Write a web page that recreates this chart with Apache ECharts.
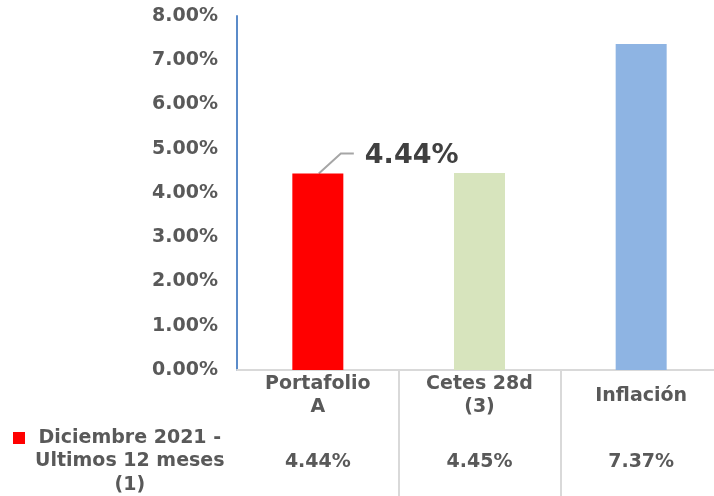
<!DOCTYPE html>
<html>
<head>
<meta charset="utf-8">
<script src="https://cdn.jsdelivr.net/npm/echarts@6/dist/echarts.min.js"></script>
<style>
  html, body { margin: 0; padding: 0; background: #fff; overflow: hidden; }
  #chart { width: 722px; height: 496px; }
</style>
</head>
<body>
<div id="chart"></div>
<script>
// datos del grafico
const categorias = ['Portafolio\nA', 'Cetes 28d\n(3)', 'Inflación'];
const rendimientos = [4.44, 4.45, 7.37];
const colores = ['#ff0000', '#d7e4bd', '#8eb4e3'];
const serieNombre = 'Diciembre 2021 -\nUltimos 12 meses\n(1)';
const yTicks = [0, 1, 2, 3, 4, 5, 6, 7, 8];

const FONT = 'DejaVu Sans';
const GRIS = '#595959';

const chart = echarts.init(document.getElementById('chart'));

const option = {
    animation: false,
    grid: { left: 237, right: 0, top: 16, bottom: 126 },
    xAxis: [
        {
            type: 'category',
            data: categorias,
            axisLine: { lineStyle: { color: '#d9d9d9', width: 2 } },
            axisTick: {
                show: true,
                length: 130,
                interval: function (i) { return i > 0; },
                lineStyle: { color: '#d9d9d9', width: 2 }
            },
            axisLabel: {
                margin: 26,
                verticalAlign: 'middle',
                lineHeight: 23,
                color: GRIS,
                fontFamily: FONT,
                fontWeight: 'bold',
                fontSize: 19
            }
        },
        {
            // fila de la tabla de datos
            type: 'category',
            position: 'bottom',
            data: rendimientos.map(v => v.toFixed(2) + '%'),
            axisLine: { show: false },
            axisTick: { show: false },
            axisLabel: {
                margin: 92,
                verticalAlign: 'middle',
                color: GRIS,
                fontFamily: FONT,
                fontWeight: 'bold',
                fontSize: 19
            }
        }
    ],
    yAxis: {
        type: 'value',
        min: yTicks[0],
        max: yTicks[yTicks.length - 1],
        interval: 1,
        axisLine: { show: true, lineStyle: { color: '#5b8bc9', width: 2 } },
        axisTick: { show: false },
        splitLine: { show: false },
        axisLabel: {
            margin: 19,
            color: GRIS,
            fontFamily: FONT,
            fontWeight: 'bold',
            fontSize: 19,
            formatter: v => v.toFixed(2) + '%'
        }
    },
    series: [
        {
            name: serieNombre,
            type: 'bar',
            barWidth: 51,
            data: rendimientos.map((v, i) => {
                const item = { value: v, itemStyle: { color: colores[i] } };
                if (i === 0) {
                    item.label = {
                        show: true,
                        position: 'top',
                        formatter: v.toFixed(2) + '%',
                        fontFamily: FONT,
                        fontWeight: 'bold',
                        fontSize: 27,
                        color: '#404040',
                        align: 'left',
                        verticalAlign: 'middle',
                        offset: [47, -13]
                    };
                }
                return item;
            })
        }
    ],
    graphic: [
        {
            type: 'rect',
            left: 13, top: 432,
            shape: { width: 12, height: 12 },
            style: { fill: colores[0] }
        },
        {
            type: 'text',
            left: 35, top: 426,
            style: {
                text: serieNombre,
                fill: GRIS,
                font: 'bold 19px "DejaVu Sans"',
                lineHeight: 23.5,
                textAlign: 'center',
                width: 185
            }
        }
    ]
};

chart.setOption(option);

// linea guia de la etiqueta, desde la parte superior de la barra
const tope = chart.convertToPixel({ seriesIndex: 0 }, [0, rendimientos[0]]);
chart.setOption({
    graphic: [{
        id: 'guia',
        type: 'polyline',
        shape: {
            points: [
                [tope[0] + 1, tope[1]],
                [tope[0] + 23, tope[1] - 20],
                [tope[0] + 36, tope[1] - 20]
            ]
        },
        style: { stroke: '#a6a6a6', lineWidth: 2, fill: null }
    }]
});

window.addEventListener('resize', function () {
    chart.resize();
});
</script>
</body>
</html>
